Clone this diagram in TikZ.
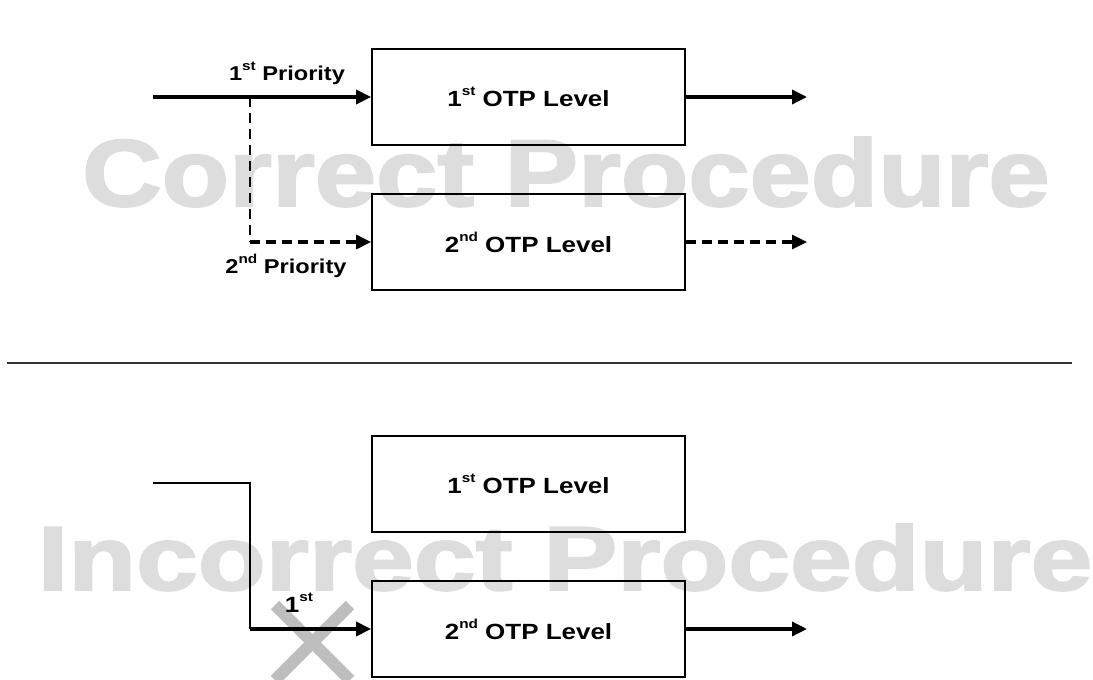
\documentclass[tikz,border=0pt]{standalone}
\usepackage{graphicx}
\usepackage{fontspec}
\setmainfont{Liberation Sans}
\newfontfamily\wmfont[FakeBold=2]{Liberation Sans Bold}
\usetikzlibrary{arrows.meta}
\definecolor{wmgray}{HTML}{DDDDDD}
\definecolor{xgray}{HTML}{BEBEBE}
\newcommand{\hx}[1]{\scalebox{1.18}[1]{#1}}
\newcommand{\sups}[1]{\raisebox{0.5em}{\fontsize{13}{13}\selectfont #1}}
\begin{document}
\begin{tikzpicture}[x=1pt,y=-1pt,
  box/.style={draw, line width=1.8pt, minimum width=313pt, minimum height=96pt, inner sep=0pt,
    font=\bfseries\fontsize{22}{26}\selectfont},
  lbl/.style={font=\bfseries\fontsize{20}{24}\selectfont, inner sep=0pt},
  tip/.style={-{Triangle[length=15pt,width=14pt]}},
  heavy/.style={line width=3.4pt, tip},
  dashheavy/.style={line width=3.2pt, dash pattern=on 10pt off 6pt, tip},
  dashthin/.style={line width=2pt, dash pattern=on 10pt off 6pt},
  thinline/.style={line width=1.8pt},
  wmark/.style={text=wmgray, inner sep=0pt, anchor=base},
]
\useasboundingbox (0,0) rectangle (1093,680);
\fill[white] (0,0) rectangle (1093,680);

% watermarks
\node[wmark] (wm1) at (566,206) {\wmfont\fontsize{95}{100}\selectfont\scalebox{1.16}[1]{Correct Procedure}};
\node[wmark] (wm2) at (565,590) {\wmfont\fontsize{91}{96}\selectfont\scalebox{1.22}[1]{Incorrect Procedure}};

% ---------- correct procedure ----------
\node[box] (b1) at (528.5,97) {\hx{1\sups{st} OTP Level}};
\node[box] (b2) at (528.5,242) {\hx{2\sups{nd} OTP Level}};
\coordinate (in1) at (153,97);
\coordinate (k1) at (250,97);
\coordinate (k1b) at (250,242);
\coordinate (o1) at (807,97);
\coordinate (o2) at (807,242);
\draw[dashthin] (k1) -- (k1b);
\draw[heavy] (in1) -- (b1.west);
\draw[dashheavy] (k1b) -- (b2.west);
\draw[heavy] (b1.east) -- (o1);
\draw[dashheavy] (b2.east) -- (o2);
\node[lbl] (p1) at (287,73) {\hx{1\sups{st} Priority}};
\node[lbl] (p2) at (286,266) {\hx{2\sups{nd} Priority}};

% separator
\coordinate (s1) at (7,363);
\coordinate (s2) at (1072,363);
\draw[line width=1.8pt, black!80] (s1) -- (s2);

% ---------- incorrect procedure ----------
\node[box] (c1) at (528.5,484) {\hx{1\sups{st} OTP Level}};
\node[box] (c2) at (528.5,629) {\hx{2\sups{nd} OTP Level}};
\coordinate (xa) at (275,605);
\coordinate (xb) at (350,680);
\coordinate (xc) at (350,605);
\coordinate (xd) at (275,680);
\draw[xgray, line width=12pt] (xa) -- (xb) (xc) -- (xd);
\coordinate (in2) at (153,483);
\coordinate (k2) at (250,629);
\coordinate (o3) at (807,629);
\draw[thinline] (in2) -| (k2);
\draw[heavy] (k2) -- (c2.west);
\draw[heavy] (c2.east) -- (o3);
\node[lbl, font=\bfseries\fontsize{22}{26}\selectfont] (p3) at (299,603) {\hx{1\sups{st}}};
\end{tikzpicture}
\end{document}
